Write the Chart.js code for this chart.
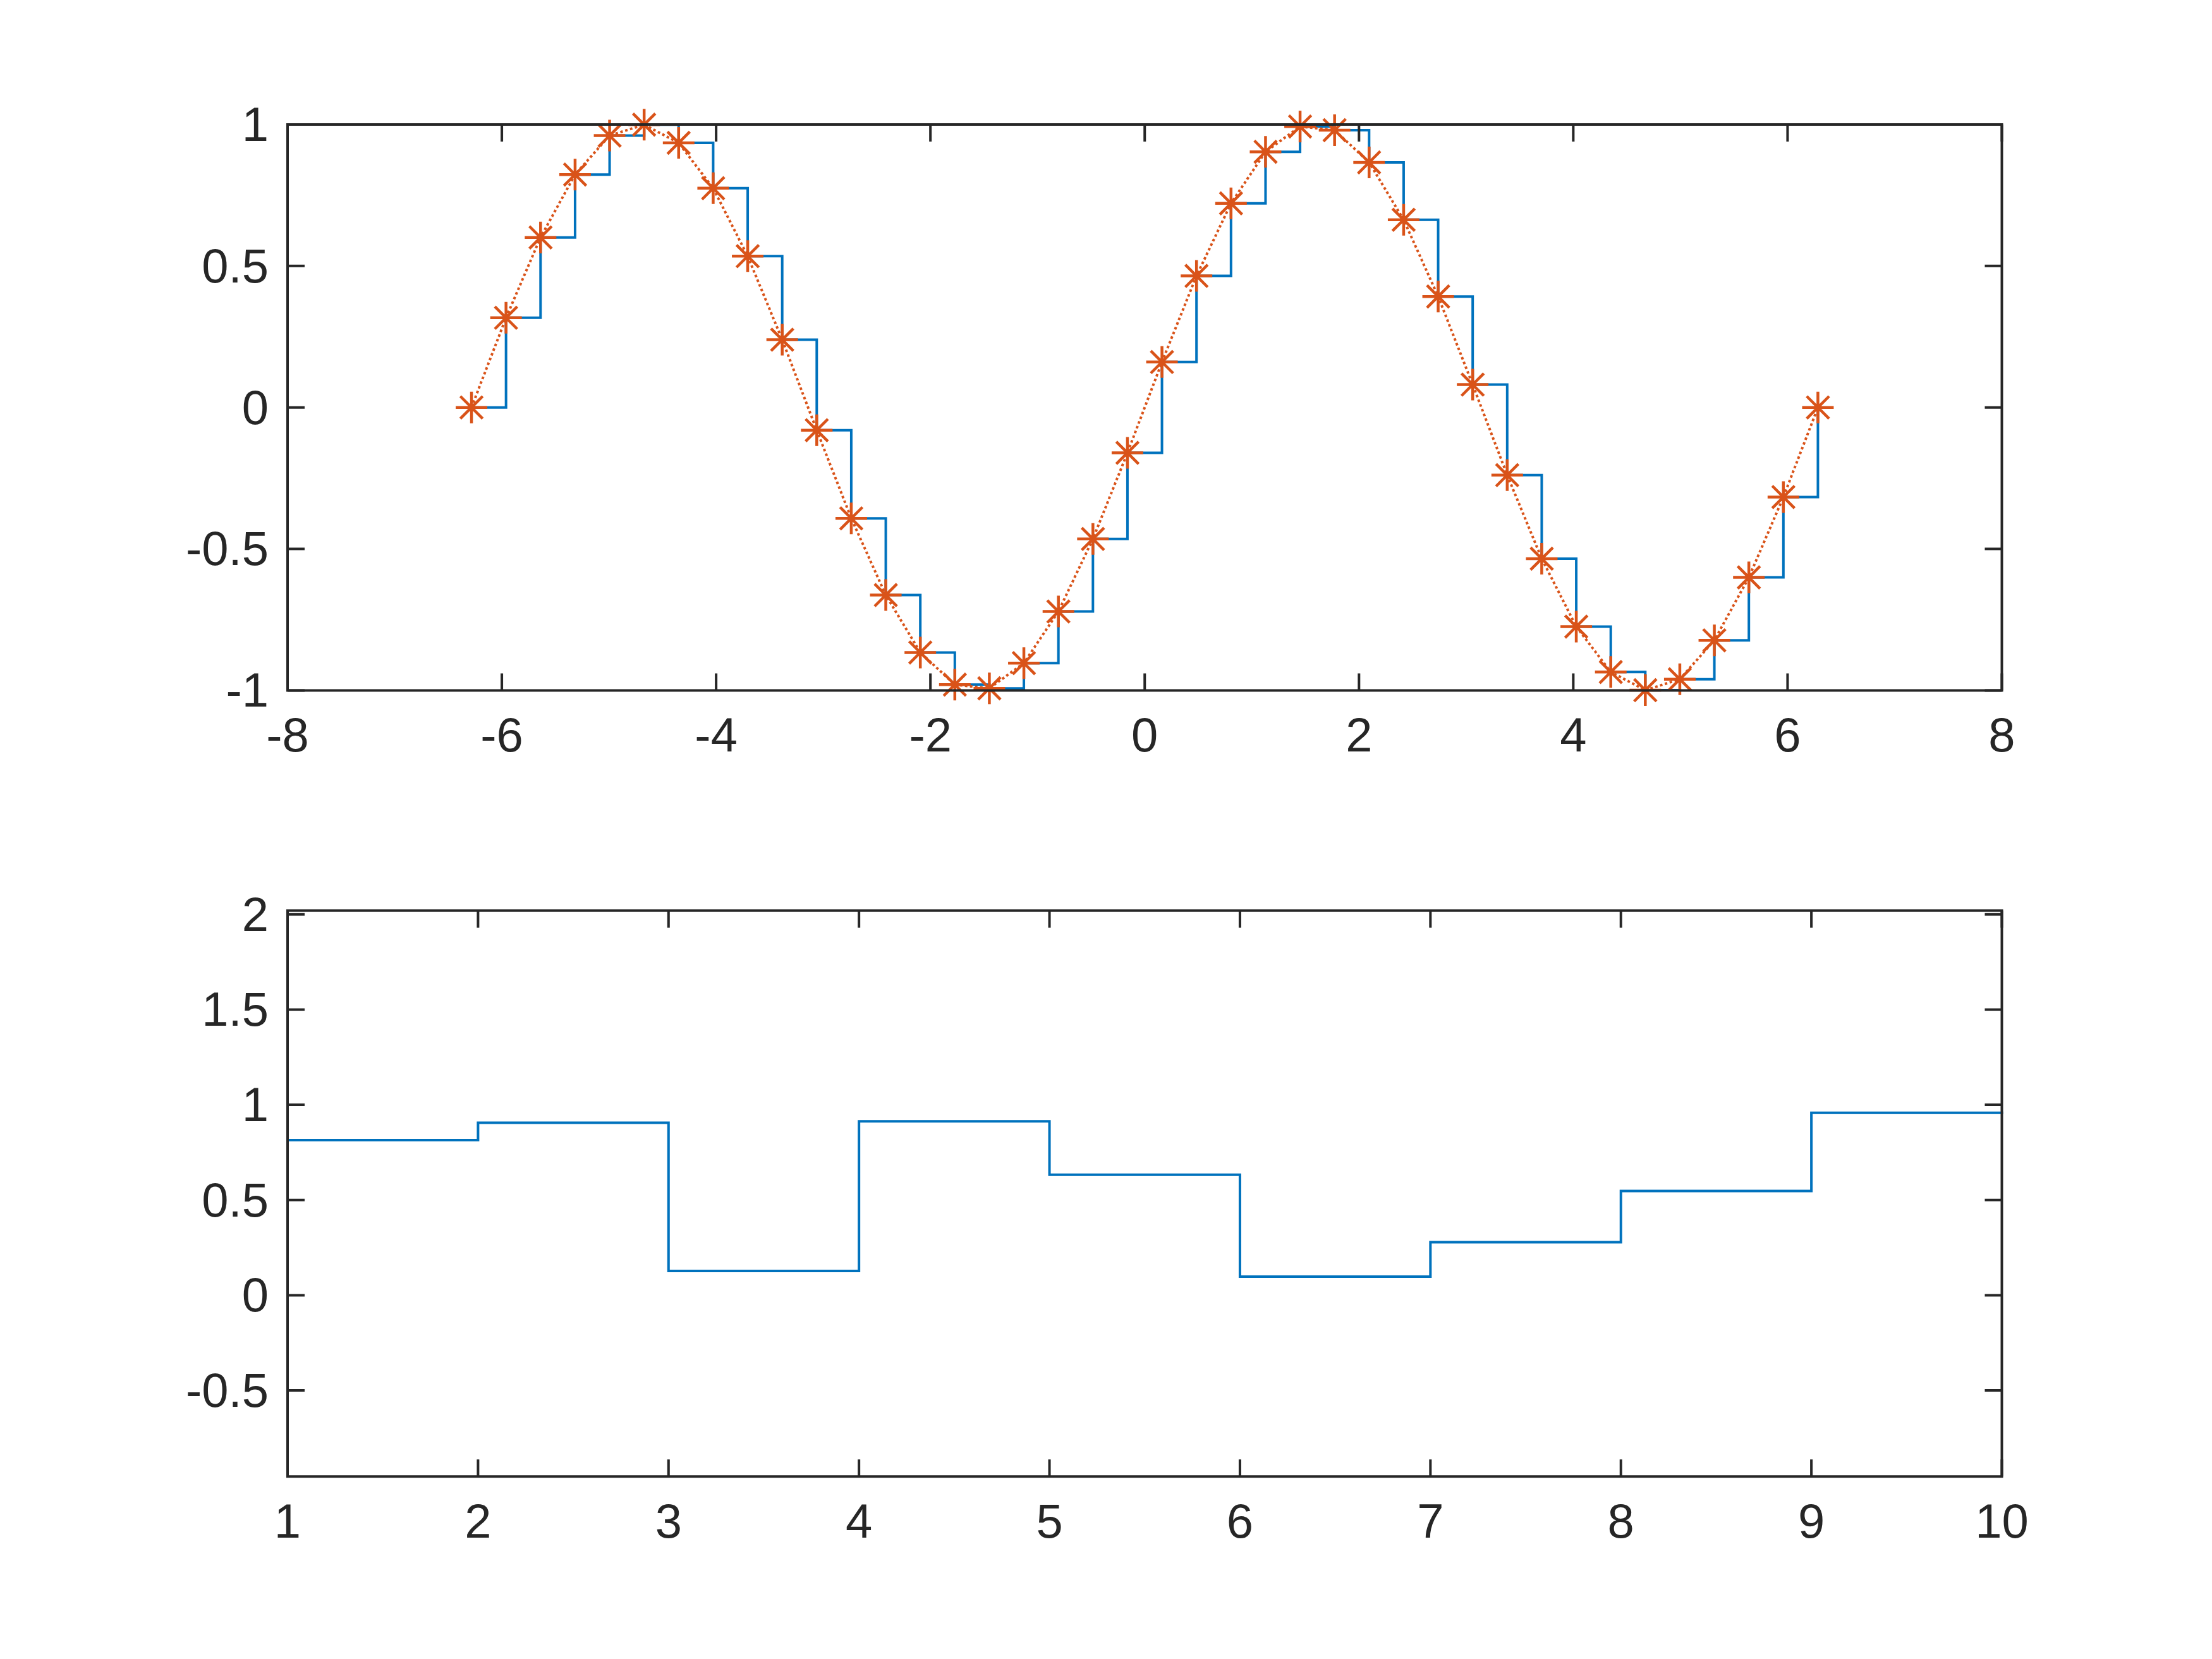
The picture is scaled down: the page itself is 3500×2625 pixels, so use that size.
<!DOCTYPE html>
<html>
<head>
<meta charset="utf-8">
<script src="https://cdn.jsdelivr.net/npm/chart.js@4.4.1/dist/chart.umd.min.js"></script>
<style>
html,body{margin:0;padding:0;background:#ffffff;}
#wrap{position:relative;width:3500px;height:2625px;background:#ffffff;}
canvas{position:absolute;left:0;top:0;}
</style>
</head>
<body>
<div id="wrap">
<canvas id="c1" width="3500" height="2625"></canvas>
<canvas id="c2" width="3500" height="2625"></canvas>
</div>
<script>
// ---- data ----
const sineX = [-6.2832,-5.9610,-5.6388,-5.3165,-4.9943,-4.6721,-4.3499,-4.0277,-3.7055,-3.3833,
               -3.0610,-2.7388,-2.4166,-2.0944,-1.7722,-1.4500,-1.1278,-0.8055,-0.4833,-0.1611,
                0.1611, 0.4833, 0.8055, 1.1278, 1.4500, 1.7722, 2.0944, 2.4166, 2.7388, 3.0610,
                3.3833, 3.7055, 4.0277, 4.3499, 4.6721, 4.9943, 5.3165, 5.6388, 5.9610, 6.2832];
const sineY = [ 0.0000, 0.3167, 0.6007, 0.8230, 0.9605, 0.9992, 0.9350, 0.7746, 0.5345, 0.2393,
               -0.0805,-0.3920,-0.6631,-0.8660,-0.9798,-0.9927,-0.9034,-0.7212,-0.4647,-0.1604,
                0.1604, 0.4647, 0.7212, 0.9034, 0.9927, 0.9798, 0.8660, 0.6631, 0.3920, 0.0805,
               -0.2393,-0.5345,-0.7746,-0.9350,-0.9992,-0.9605,-0.8230,-0.6007,-0.3167, 0.0000];
const stepX = [1, 2, 3, 4, 5, 6, 7, 8, 9, 10];
const stepY = [0.8147, 0.9058, 0.1270, 0.9134, 0.6324, 0.0975, 0.2785, 0.5469, 0.9575, 0.9649];

const topXTicks = [-8, -6, -4, -2, 0, 2, 4, 6, 8];
const topXLabels = ['-8', '-6', '-4', '-2', '0', '2', '4', '6', '8'];
const topYTicks = [-1, -0.5, 0, 0.5, 1];
const topYLabels = ['-1', '-0.5', '0', '0.5', '1'];
const botXTicks = [1, 2, 3, 4, 5, 6, 7, 8, 9, 10];
const botXLabels = ['1', '2', '3', '4', '5', '6', '7', '8', '9', '10'];
const botYTicks = [-0.5, 0, 0.5, 1, 1.5, 2];
const botYLabels = ['-0.5', '0', '0.5', '1', '1.5', '2'];

// ---- styling ----
const AX = '#262626';
const BLUE = '#0072BD';
const ORANGE = '#D95319';
Chart.defaults.font.family = '"Liberation Sans", Arial, Helvetica, sans-serif';
Chart.defaults.font.size = 76;
Chart.defaults.color = AX;

const boxPlugin = {
  id: 'matlabBox',
  afterDatasetsDraw(chart) {
    const {ctx, chartArea: a, scales: {x, y}} = chart;
    const L = 27;
    ctx.save();
    ctx.strokeStyle = AX;
    ctx.lineWidth = 4;
    ctx.lineCap = 'butt';
    ctx.setLineDash([]);
    ctx.beginPath();
    x.ticks.forEach(t => {
      const px = x.getPixelForValue(t.value);
      ctx.moveTo(px, a.bottom); ctx.lineTo(px, a.bottom - L);
      ctx.moveTo(px, a.top); ctx.lineTo(px, a.top + L);
    });
    y.ticks.forEach(t => {
      const py = y.getPixelForValue(t.value);
      ctx.moveTo(a.left, py); ctx.lineTo(a.left + L, py);
      ctx.moveTo(a.right, py); ctx.lineTo(a.right - L, py);
    });
    ctx.stroke();
    ctx.beginPath();
    ctx.rect(a.left, a.top, a.right - a.left, a.bottom - a.top);
    ctx.stroke();
    ctx.restore();
  }
};

function axis(min, max, ticks, labels, isX, pad) {
  return {
    type: 'linear',
    min: min, max: max,
    grid: {display: false, drawTicks: false},
    border: {display: false},
    afterBuildTicks: s => { s.ticks = ticks.map(v => ({value: v})); },
    afterFit: s => { if (isX) { s.height = 150; } else { s.width = 455; } },
    ticks: {
      padding: pad,
      autoSkip: false,
      maxRotation: 0,
      minRotation: 0,
      labelOffset: isX ? 0 : 5,
      color: AX,
      callback: (v, i) => labels[i]
    }
  };
}

function makeChart(id, datasets, xs, ys, padTop, padBottom) {
  return new Chart(document.getElementById(id), {
    type: 'line',
    data: {datasets: datasets},
    options: {
      responsive: false,
      animation: false,
      events: [],
      layout: {padding: {left: 0, right: 332.5, top: padTop, bottom: padBottom}},
      plugins: {legend: {display: false}, tooltip: {enabled: false}},
      scales: {x: xs, y: ys}
    },
    plugins: [boxPlugin]
  });
}

const sinePts = sineX.map((x, i) => ({x: x, y: sineY[i]}));
const stepPts = stepX.map((x, i) => ({x: x, y: stepY[i]}));

makeChart('c1', [
  {
    data: sinePts, order: 0, clip: false,
    borderColor: ORANGE, borderWidth: 4, borderDash: [4, 4], tension: 0, fill: false,
    pointStyle: 'star', pointRadius: 25, pointBorderWidth: 4.5,
    pointBorderColor: ORANGE, pointBackgroundColor: 'rgba(0,0,0,0)'
  },
  {
    data: sinePts, order: 1, clip: false, stepped: 'before',
    borderColor: BLUE, borderWidth: 4, fill: false, pointRadius: 0
  }
],
  axis(-8, 8, topXTicks, topXLabels, true, 30),
  axis(-1, 1, topYTicks, topYLabels, false, 30),
  196.9, 2625 - 1092.4 - 150);

makeChart('c2', [
  {
    data: stepPts, clip: false, stepped: 'before',
    borderColor: BLUE, borderWidth: 4, fill: false, pointRadius: 0
  }
],
  axis(1, 10, botXTicks, botXLabels, true, 30),
  axis(-0.952, 2.02, botYTicks, botYLabels, false, 30),
  1440.7, 2625 - 2336.25 - 150);
</script>
</body>
</html>
